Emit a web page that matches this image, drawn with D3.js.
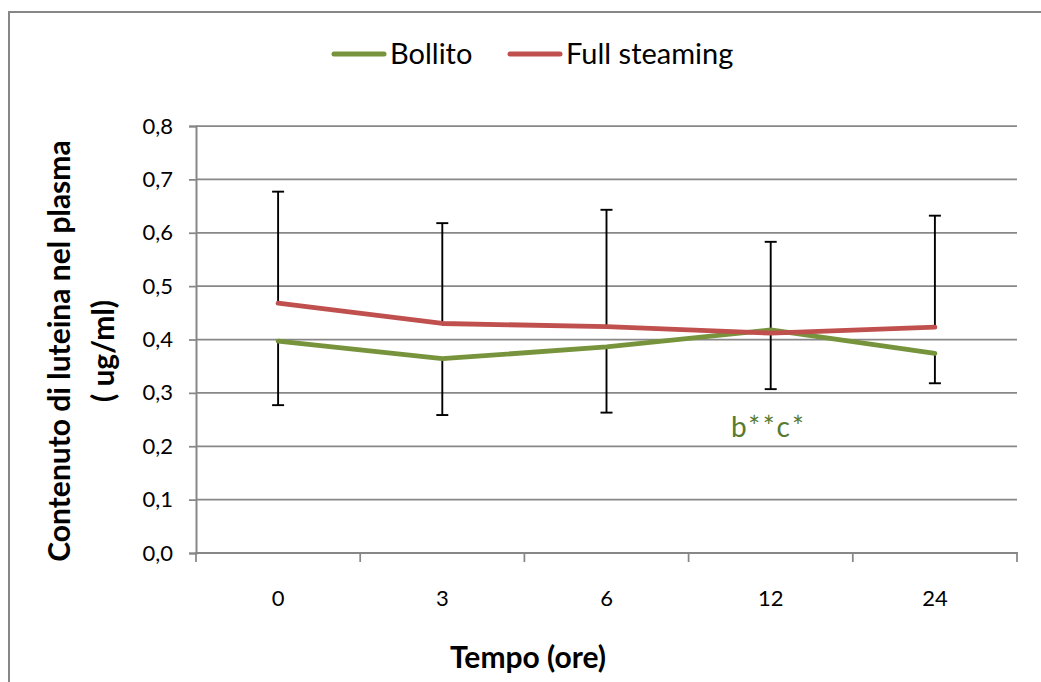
<!DOCTYPE html>
<html>
<head>
<meta charset="utf-8">
<script src="https://cdn.jsdelivr.net/npm/d3@7"></script>
<style>
  html, body { margin: 0; padding: 0; background: #fff; }
  svg { display: block; font-family: Lato, "Open Sans", sans-serif; }
</style>
</head>
<body>
<svg id="chart" width="1041" height="682"></svg>
<script>
// Time points (hours)
const categories = ["0", "3", "6", "12", "24"];

// Plasma lutein content (ug/ml) per preparation method
const bollito = [0.397, 0.364, 0.386, 0.418, 0.374];
const fullSteaming = [0.468, 0.430, 0.424, 0.412, 0.423];

// Error bar ends: Full steaming shown upward, Bollito shown downward
const fullSteamingUpper = [0.677, 0.618, 0.643, 0.583, 0.632];
const bollitoLower = [0.277, 0.2585, 0.263, 0.307, 0.318];

const yTicks = [0, 0.1, 0.2, 0.3, 0.4, 0.5, 0.6, 0.7, 0.8];

const seriesNames = ["Bollito", "Full steaming"];
const annotation = { label: "b**c*", category: "12", value: 0.22 };

const GREEN = "#77933c";
const RED = "#c0504d";
const GRID = "#878787";

const svg = d3.select("#chart");

// outer chart frame
svg.append("rect")
  .attr("x", 9).attr("y", 12)
  .attr("width", 1100).attr("height", 760)
  .attr("fill", "none").attr("stroke", GRID).attr("stroke-width", 2);

const x = d3.scaleBand().domain(categories).range([196, 1017]).padding(0);
const y = d3.scaleLinear().domain([0, 0.8]).range([553, 126]);
const cx = c => x(c) + x.bandwidth() / 2;

const fmt = d3.formatLocale({ decimal: ",", thousands: ".", grouping: [3], currency: ["", "€"] }).format(".1f");

// horizontal gridlines
svg.append("g").selectAll("line")
  .data(yTicks.filter(v => v > 0))
  .join("line")
  .attr("x1", 196).attr("x2", 1017)
  .attr("y1", d => y(d)).attr("y2", d => y(d))
  .attr("stroke", GRID).attr("stroke-width", 1.75);

// y axis
const yAxis = svg.append("g")
  .attr("transform", "translate(196,0)")
  .call(d3.axisLeft(y).tickValues(yTicks).tickFormat(fmt).tickSize(7).tickPadding(16));
yAxis.select(".domain").attr("stroke", GRID).attr("stroke-width", 2);
yAxis.selectAll(".tick line").attr("stroke", GRID).attr("stroke-width", 1.75);
yAxis.selectAll(".tick text")
  .attr("font-family", "Lato, sans-serif").attr("font-size", 22).attr("fill", "#000");

// x axis: labels centred in bands, tick marks on band edges
const xAxis = svg.append("g")
  .attr("transform", "translate(0,553)")
  .call(d3.axisBottom(x).tickSize(0).tickPadding(37));
xAxis.select(".domain").remove();
xAxis.selectAll(".tick text")
  .attr("font-family", "Lato, sans-serif").attr("font-size", 22).attr("fill", "#000");
svg.append("line")
  .attr("x1", 195).attr("x2", 1018).attr("y1", 553).attr("y2", 553)
  .attr("stroke", GRID).attr("stroke-width", 2);
const edges = categories.map(c => x(c)).concat([x(categories[categories.length - 1]) + x.bandwidth()]);
svg.append("g").selectAll("line")
  .data(edges)
  .join("line")
  .attr("x1", d => d).attr("x2", d => d)
  .attr("y1", 553).attr("y2", 562)
  .attr("stroke", GRID).attr("stroke-width", 1.75);

// error bars
function errorBars(vals, ends, cls) {
  const g = svg.append("g").attr("class", cls);
  const data = categories.map((c, i) => ({ c, v: vals[i], e: ends[i] }));
  g.selectAll("line.stem").data(data).join("line").attr("class", "stem")
    .attr("x1", d => cx(d.c)).attr("x2", d => cx(d.c))
    .attr("y1", d => y(d.v)).attr("y2", d => y(d.e))
    .attr("stroke", "#000").attr("stroke-width", 1.9);
  g.selectAll("line.cap").data(data).join("line").attr("class", "cap")
    .attr("x1", d => cx(d.c) - 6).attr("x2", d => cx(d.c) + 6)
    .attr("y1", d => y(d.e)).attr("y2", d => y(d.e))
    .attr("stroke", "#000").attr("stroke-width", 1.9);
}
errorBars(fullSteaming, fullSteamingUpper, "err-fs");
errorBars(bollito, bollitoLower, "err-b");

// series lines
const line = d3.line().x(d => cx(d.c)).y(d => y(d.v));
[[bollito, GREEN], [fullSteaming, RED]].forEach(([vals, col]) => {
  svg.append("path")
    .datum(categories.map((c, i) => ({ c, v: vals[i] })))
    .attr("d", line)
    .attr("fill", "none").attr("stroke", col).attr("stroke-width", 4.8)
    .attr("stroke-linecap", "round").attr("stroke-linejoin", "round");
});

// significance note
svg.append("text")
  .attr("x", cx(annotation.category) - 2).attr("y", y(annotation.value) + 1)
  .attr("text-anchor", "middle").attr("font-size", 28).attr("letter-spacing", 2.5)
  .attr("fill", "#5a7a2f")
  .text(annotation.label);

// legend
const legendItems = [
  { name: seriesNames[0], color: GREEN, x: 332 },
  { name: seriesNames[1], color: RED, x: 508 }
];
const lg = svg.append("g");
legendItems.forEach(it => {
  lg.append("line")
    .attr("x1", it.x + 2).attr("x2", it.x + 52).attr("y1", 54).attr("y2", 54)
    .attr("stroke", it.color).attr("stroke-width", 5).attr("stroke-linecap", "round");
  lg.append("text")
    .attr("x", it.x + 58).attr("y", 64)
    .attr("font-size", 29).attr("fill", "#000")
    .text(it.name);
});

// axis titles
svg.append("text")
  .attr("x", 528).attr("y", 668)
  .attr("text-anchor", "middle").attr("font-size", 30).attr("font-weight", "bold")
  .text("Tempo (ore)");

const yt = svg.append("text")
  .attr("transform", "translate(0,351) rotate(-90)")
  .attr("text-anchor", "middle").attr("font-size", 30).attr("font-weight", "bold");
yt.append("tspan").attr("x", 0).attr("y", 70).text("Contenuto di luteina nel plasma");
yt.append("tspan").attr("x", 0).attr("y", 114).text("( ug/ml)");
</script>
</body>
</html>
